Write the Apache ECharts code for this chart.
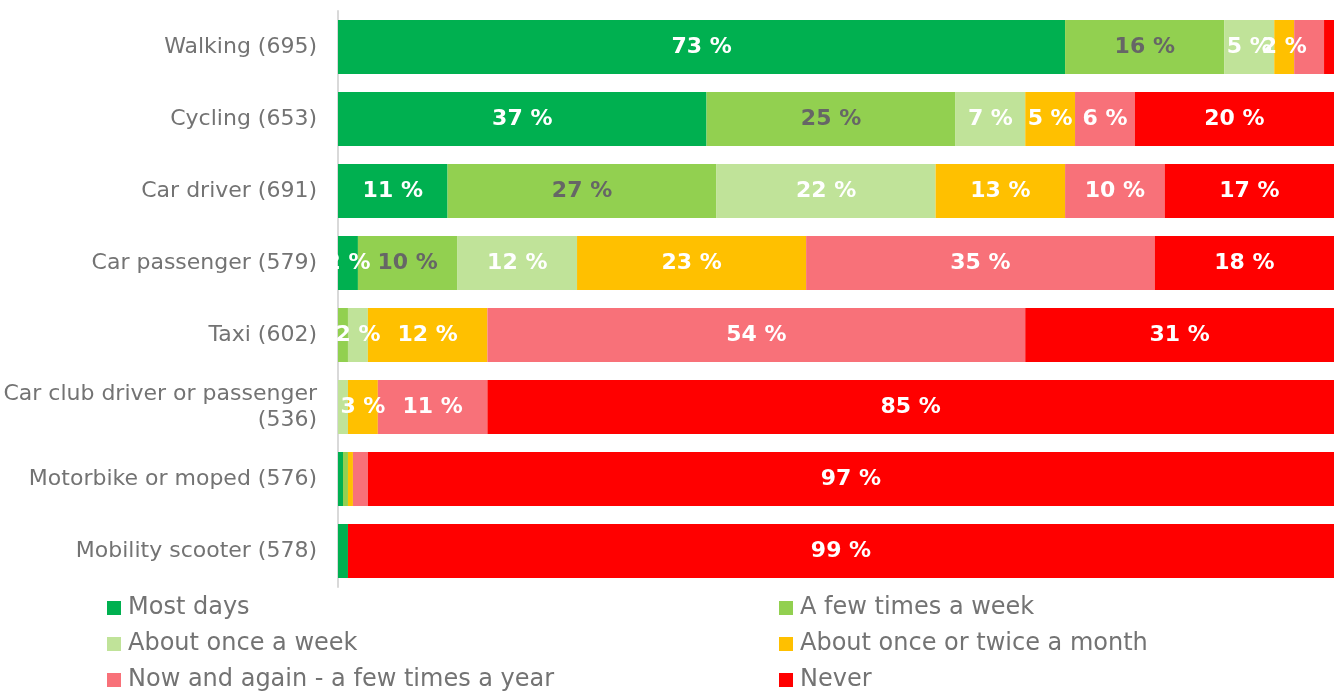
<!DOCTYPE html>
<html>
<head>
<meta charset="utf-8">
<script src="https://cdn.jsdelivr.net/npm/echarts@6/dist/echarts.min.js"></script>
<style>
  html, body { margin: 0; padding: 0; background: #ffffff; }
  #chart { width: 1335px; height: 698px; }
</style>
</head>
<body>
<div id="chart"></div>
<script>
// Travel modes (respondent counts in brackets), top to bottom
const categories = [
  'Walking (695)',
  'Cycling (653)',
  'Car driver (691)',
  'Car passenger (579)',
  'Taxi (602)',
  'Car club driver or passenger\n(536)',
  'Motorbike or moped (576)',
  'Mobility scooter (578)'
];

// Share of respondents (%) per frequency band, one value per travel mode
const mostDays        = [73, 37, 11,  2,  0,  0, 0.5, 1];
const fewTimesWeek    = [16, 25, 27, 10,  1,  0, 0.5, 0];
const onceAWeek       = [ 5,  7, 22, 12,  2,  1, 0,   0];
const onceTwiceMonth  = [ 2,  5, 13, 23, 12,  3, 0.5, 0];
const nowAndAgain     = [ 3,  6, 10, 35, 54, 11, 1.5, 0];
const never           = [ 1, 20, 17, 18, 31, 85, 97,  99];

const seriesNames = [
  'Most days',
  'A few times a week',
  'About once a week',
  'About once or twice a month',
  'Now and again - a few times a year',
  'Never'
];
const seriesValues = [mostDays, fewTimesWeek, onceAWeek, onceTwiceMonth, nowAndAgain, never];
const seriesColors = ['#00b050', '#92d050', '#c0e399', '#ffc000', '#f87179', '#ff0000'];
const labelColors  = ['#ffffff', '#666666', '#ffffff', '#ffffff', '#ffffff', '#ffffff'];

// value labels left off where a neighbouring label already covers the slot
const hiddenLabels = new Set(['4:0']);

const chart = echarts.init(document.getElementById('chart'), null, { renderer: 'canvas' });

const series = seriesNames.map((name, s) => ({
  name: name,
  type: 'bar',
  stack: 'total',
  barWidth: 54,
  itemStyle: { color: seriesColors[s] },
  label: {
    show: true,
    position: 'inside',
    color: labelColors[s],
    fontFamily: 'DejaVu Sans',
    fontWeight: 'bold',
    fontSize: 22,
    formatter: p => (p.value >= 2 && !hiddenLabels.has(s + ':' + p.dataIndex)) ? Math.round(p.value) + ' %' : ''
  },
  emphasis: { disabled: true },
  data: seriesValues[s]
}));

const legendBase = {
  orient: 'vertical',
  top: 596,
  height: 110,
  padding: 0,
  itemWidth: 14,
  itemHeight: 14,
  itemGap: 12,
  icon: 'rect',
  selectedMode: false,
  textStyle: {
    color: '#737373',
    fontFamily: 'DejaVu Sans',
    fontSize: 24,
    lineHeight: 24,
    padding: [0, 0, 0, 2]
  }
};

chart.setOption({
  animation: false,
  backgroundColor: '#ffffff',
  grid: { left: 338, right: 1, top: 11, height: 576, containLabel: false },
  xAxis: {
    type: 'value',
    min: 0,
    max: 100,
    show: false
  },
  yAxis: {
    type: 'category',
    data: categories,
    inverse: true,
    axisLine: { show: true, lineStyle: { color: '#d9d9d9', width: 2 } },
    axisTick: { show: false },
    axisLabel: {
      color: '#737373',
      fontFamily: 'DejaVu Sans',
      fontSize: 22,
      lineHeight: 26,
      margin: 21,
      align: 'right'
    }
  },
  legend: [
    Object.assign({}, legendBase, { left: 107, data: [seriesNames[0], seriesNames[2], seriesNames[4]] }),
    Object.assign({}, legendBase, { left: 779, data: [seriesNames[1], seriesNames[3], seriesNames[5]] })
  ],
  series: series
});
</script>
</body>
</html>
